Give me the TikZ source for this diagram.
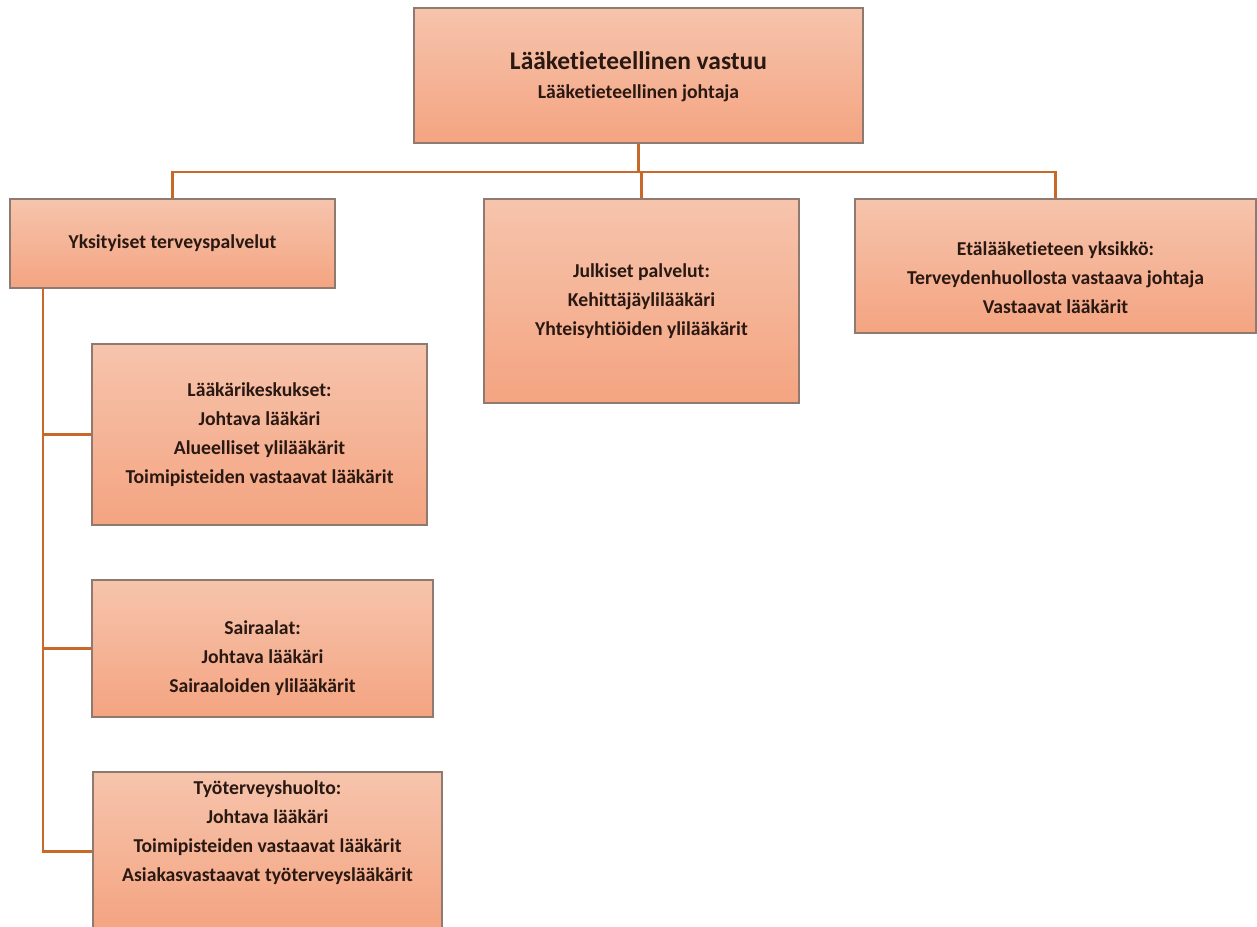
\documentclass[tikz,border=0pt]{standalone}
\usepackage{fontspec}
\setmainfont{Carlito}[Ligatures=NoCommon]
\usepackage{tikz}
\usetikzlibrary{calc}

\definecolor{boxtop}{HTML}{F6C4AC}
\definecolor{boxbot}{HTML}{F4A481}
\definecolor{boxline}{HTML}{8E7A70}
\definecolor{linkline}{HTML}{C8692A}
\definecolor{inktext}{HTML}{2A1812}

\begin{document}
\begin{tikzpicture}[x=0.02cm,y=-0.02cm,
    org box/.style={rectangle,draw=boxline,line width=0.8pt,top color=boxtop,bottom color=boxbot,inner sep=0pt},
    org text/.style={align=center,text=inktext,font=\bfseries\fontsize{11.2}{16.5}\selectfont},
    link/.style={draw=linkline,line width=1.7pt}]
    \useasboundingbox (0,0) rectangle (1257,926);

    % boxes
    \node[org box,minimum width=8.98cm,minimum height=2.7cm] (top) at (638.5,75.5) {};
    \node[org box,minimum width=6.5cm,minimum height=1.78cm] (yksi) at (172.5,243.5) {};
    \node[org box,minimum width=6.3cm,minimum height=4.08cm] (julk) at (641.5,301) {};
    \node[org box,minimum width=8.02cm,minimum height=2.68cm] (eta) at (1055.5,266) {};
    \node[org box,minimum width=6.7cm,minimum height=3.62cm] (laak) at (259.5,434.5) {};
    \node[org box,minimum width=6.82cm,minimum height=2.74cm] (sair) at (262.5,648.5) {};
    \node[org box,minimum width=6.98cm,minimum height=3.16cm] (tyo) at (267.5,851) {};

    % texts
    \node[org text] (toptxt) at ([yshift=-0.03cm]top.center)
      {{\fontsize{14.5}{20}\selectfont Lääketieteellinen vastuu}\\Lääketieteellinen johtaja};
    \node[org text] (yksitxt) at (yksi.center) {Yksityiset terveyspalvelut};
    \node[org text] (julktxt) at (julk.center)
      {Julkiset palvelut:\\Kehittäjäylilääkäri\\Yhteisyhtiöiden ylilääkärit};
    \node[org text] (etatxt) at ([yshift=-0.24cm]eta.center)
      {Etälääketieteen yksikkö:\\Terveydenhuollosta vastaava johtaja\\Vastaavat lääkärit};
    \node[org text] (laaktxt) at (laak.center)
      {Lääkärikeskukset:\\Johtava lääkäri\\Alueelliset ylilääkärit\\Toimipisteiden vastaavat lääkärit};
    \node[org text] (sairtxt) at ([yshift=-0.2cm]sair.center)
      {Sairaalat:\\Johtava lääkäri\\Sairaaloiden ylilääkärit};
    \node[org text] (tyotxt) at ([yshift=0.36cm]tyo.center)
      {Työterveyshuolto:\\Johtava lääkäri\\Toimipisteiden vastaavat lääkärit\\Asiakasvastaavat työterveyslääkärit};

    % connectors
    \coordinate (bus) at (0,172);
    \coordinate (trunk) at (43,0);
    \path[link] (top.south) -- (top.south |- bus)
      (yksi.north) -- (yksi.north |- bus) -- (eta.north |- bus) -- (eta.north)
      (julk.north) -- (julk.north |- bus);
    \path[link] (yksi.south -| trunk) -- (tyo.west -| trunk) -- (tyo.west)
      (laak.west -| trunk) -- (laak.west)
      (sair.west -| trunk) -- (sair.west);
\end{tikzpicture}
\end{document}
